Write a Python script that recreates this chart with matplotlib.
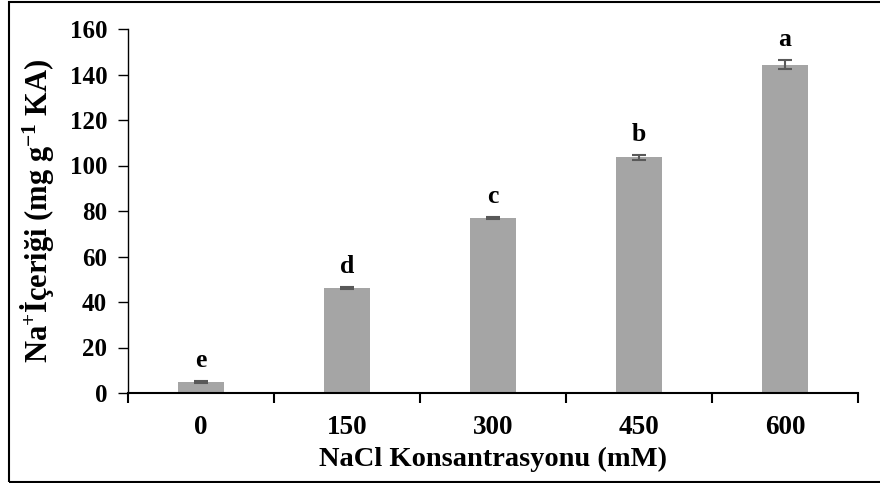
import matplotlib
matplotlib.use("Agg")
import matplotlib.pyplot as plt
from matplotlib.patches import Rectangle

categories = ["0", "150", "300", "450", "600"]
values = [4.8, 46.0, 77.0, 103.6, 144.3]
errors = [0.4, 0.5, 0.4, 1.1, 1.9]
letters = ["e", "d", "c", "b", "a"]
yticks = [0, 20, 40, 60, 80, 100, 120, 140, 160]

plt.rcParams['font.family'] = ['Liberation Serif', 'DejaVu Serif']
plt.rcParams['font.weight'] = 'bold'
plt.rcParams['mathtext.fontset'] = 'custom'
plt.rcParams['mathtext.rm'] = 'Liberation Serif:bold'
plt.rcParams['mathtext.bf'] = 'Liberation Serif:bold'
plt.rcParams['mathtext.default'] = 'rm'

fig = plt.figure(figsize=(8.8, 4.83), dpi=100)
ax = fig.add_axes([128/880, 1-393/483, (858-128)/880, (393-29)/483])

x = list(range(len(categories)))
ax.bar(x, values, width=0.32, color='#A5A5A5', zorder=2)
ax.errorbar(x, values, yerr=errors, fmt='none', ecolor='#595959',
            elinewidth=1.5, capsize=5, capthick=1.5, zorder=3)
for xi, v, e, l in zip(x, values, errors, letters):
    ax.text(xi, v + e + 4, l, ha='center', va='bottom', fontsize=18.5, fontweight='bold')

ax.set_xlim(-0.5, len(categories) - 0.5)
ax.set_ylim(0, 160)
ax.set_yticks(yticks)
ax.set_yticklabels([str(t) for t in yticks], fontsize=18, fontweight='bold')
ax.set_xticks([i + 0.5 for i in range(-1, len(categories))])
ax.set_xticklabels([])
ax.set_xticks(x, minor=True)
ax.set_xticklabels(categories, minor=True, fontsize=19.5, fontweight='bold')
ax.tick_params(axis='x', which='minor', length=0, pad=16)
ax.tick_params(axis='x', which='major', direction='out', length=7, width=1.5)
ax.tick_params(axis='y', direction='out', length=7, width=1.0, pad=8)

for s in ['top', 'right']:
    ax.spines[s].set_visible(False)
ax.spines['left'].set_linewidth(1.0)
ax.spines['bottom'].set_linewidth(1.5)

ax.set_xlabel('NaCl Konsantrasyonu (mM)', fontsize=20.5, fontweight='bold', labelpad=5)
ax.set_ylabel(r'Na$^{+}$İçeriği (mg g$^{-1}$ KA)', fontsize=22, fontweight='bold', labelpad=10)

fig.patches.append(Rectangle((9/880, 1.5/483), 1.0, 1-3/483, transform=fig.transFigure,
                             fill=False, edgecolor='black', linewidth=1.5, clip_on=False))

fig.savefig('out.png', dpi=100)
